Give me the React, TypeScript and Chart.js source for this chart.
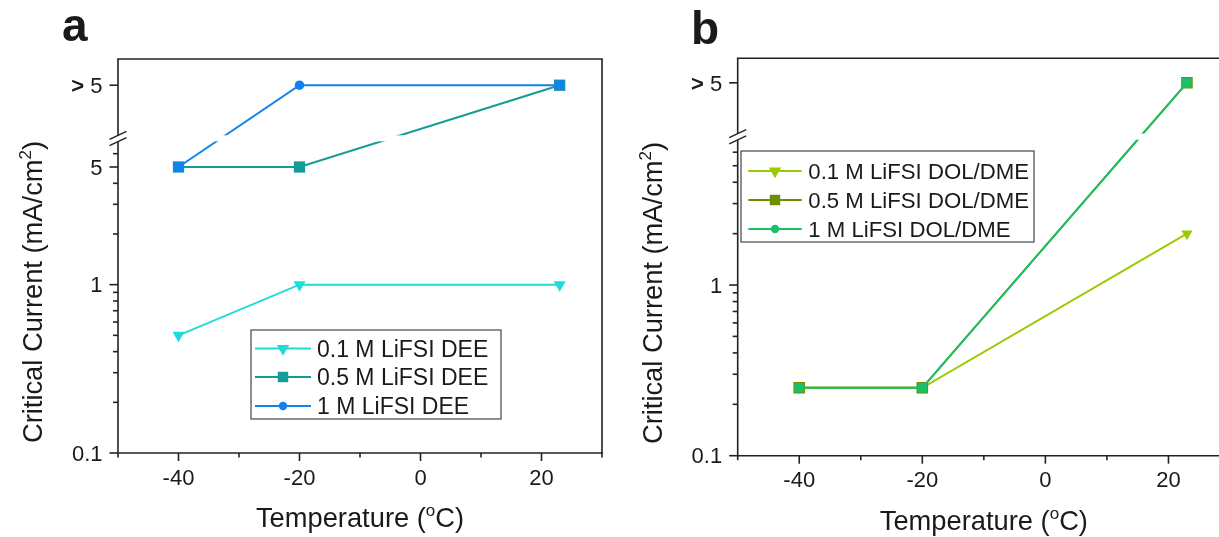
import React, { useEffect, useRef } from 'react';
import { Chart, registerables } from 'chart.js';

Chart.register(...registerables);

// ---------------- data ----------------
const TEMPERATURES = [-40, -20, 23];
const GT5 = 15.3; // axis position of the "> 5" category (above the axis break)
const BREAK_VALUE = 7.4; // where the y axis is broken

const DEE_01 = [0.5, 1, 1];
const DEE_05 = [5, 5, GT5];
const DEE_1 = [5, GT5, GT5];

const DOL_01 = [0.25, 0.25, 2];
const DOL_05 = [0.25, 0.25, GT5];
const DOL_1 = [0.25, 0.25, GT5];

const DEE_LABELS = ['0.1 M LiFSI DEE', '0.5 M LiFSI DEE', '1 M LiFSI DEE'];
const DOL_LABELS = ['0.1 M LiFSI DOL/DME', '0.5 M LiFSI DOL/DME', '1 M LiFSI DOL/DME'];

const X_MAJOR = [-40, -20, 0, 20];
const X_MAJOR_LABELS = ['-40', '-20', '0', '20'];
const X_MINOR = [-50, -30, -10, 10, 30];

const Y_MAJOR_A = [0.1, 1, 5, GT5];
const Y_LABELS_A = ['0.1', '1', '5', '> 5'];
const Y_MINOR_A = [0.2, 0.3, 0.4, 0.5, 0.6, 0.7, 0.8, 0.9, 2, 3, 4, 6];

const Y_MAJOR_B = [0.1, 1, GT5];
const Y_LABELS_B = ['0.1', '1', '> 5'];
const Y_MINOR_B = [0.2, 0.3, 0.4, 0.5, 0.6, 0.7, 0.8, 0.9, 2, 3, 4, 5, 6];

const X_TITLE = [{ t: 'Temperature (' }, { t: 'o', sup: true }, { t: 'C)' }];
const Y_TITLE = [{ t: 'Critical Current (mA/cm' }, { t: '2', sup: true }, { t: ')' }];

// ---------------- styles ----------------
const FONT = '"Liberation Sans", Arial, Helvetica, sans-serif';
const INK = '#1a1a1a';
const AXIS = '#222222';

const C_DEE_01 = '#1edcdc';
const C_DEE_05 = '#159c96';
const C_DEE_1 = '#1280f0';
const C_DOL_01 = '#99cc00';
const C_DOL_05 = '#6b8f00';
const C_DOL_1 = '#19c068';

type Seg = { t: string; sup?: boolean; bold?: boolean };

function drawSegs(ctx: CanvasRenderingContext2D, segs: Seg[], x: number, y: number, size: number, align: 'center' | 'right' | 'left') {
  const fontOf = (s: Seg) => `${s.bold ? 'bold ' : ''}${s.sup ? Math.round(size * 0.62) : size}px ${FONT}`;
  const widths = segs.map((s) => {
    ctx.font = fontOf(s);
    return ctx.measureText(s.t).width;
  });
  const total = widths.reduce((a, b) => a + b, 0);
  let cx = align === 'center' ? x - total / 2 : align === 'right' ? x - total : x;
  ctx.textAlign = 'left';
  ctx.textBaseline = 'alphabetic';
  segs.forEach((s, i) => {
    ctx.font = fontOf(s);
    ctx.fillText(s.t, cx, s.sup ? y - size * 0.42 : y);
    cx += widths[i];
  });
}

function drawMarker(ctx: CanvasRenderingContext2D, kind: string, x: number, y: number, r: number, fill: string) {
  ctx.fillStyle = fill;
  ctx.beginPath();
  if (kind === 'triangleDown') {
    ctx.moveTo(x, y + r);
    ctx.lineTo(x - r * 0.866, y - r / 2);
    ctx.lineTo(x + r * 0.866, y - r / 2);
    ctx.closePath();
  } else if (kind === 'rect') {
    const s = r * Math.SQRT1_2;
    ctx.rect(x - s, y - s, 2 * s, 2 * s);
  } else {
    ctx.arc(x, y, r, 0, Math.PI * 2);
  }
  ctx.fill();
}

const panelPlugin = {
  id: 'panel',
  afterDatasetsDraw(chart: any, _args: any, opts: any) {
    const ctx: CanvasRenderingContext2D = chart.ctx;
    const { left, right, top, bottom } = chart.chartArea;
    const xs = chart.scales.x;
    const ys = chart.scales.y;
    const by = ys.getPixelForValue(opts.breakAt);
    const line = (x0: number, y0: number, x1: number, y1: number) => {
      ctx.beginPath();
      ctx.moveTo(x0, y0);
      ctx.lineTo(x1, y1);
      ctx.stroke();
    };
    ctx.save();

    // interruption of the data lines at the axis break
    ctx.fillStyle = '#ffffff';
    ctx.fillRect(left + 2, by - 3, right - left - 4, 6);

    // frame
    ctx.strokeStyle = AXIS;
    ctx.lineWidth = 1.6;
    ctx.lineCap = 'butt';
    line(left - 0.8, top, right + 0.8, top);
    line(right, top, right, bottom);
    line(left - 0.8, bottom, right + 0.8, bottom);
    line(left, top, left, by - 3);
    line(left, by + 3.5, left, bottom);

    // break marks
    ctx.lineWidth = 1.4;
    for (const d of [-3, 3.2]) line(left - 8.5, by + d + 4, left + 8.5, by + d - 4);

    // ticks
    ctx.lineWidth = 1.6;
    X_MAJOR.forEach((v) => {
      const px = xs.getPixelForValue(v);
      line(px, bottom, px, bottom + 8);
    });
    X_MINOR.forEach((v) => {
      const px = xs.getPixelForValue(v);
      line(px, bottom, px, bottom + 4.5);
    });
    (opts.yMajor as number[]).forEach((v) => {
      const py = ys.getPixelForValue(v);
      line(left - 8.5, py, left, py);
    });
    (opts.yMinor as number[]).forEach((v) => {
      const py = ys.getPixelForValue(v);
      line(left - 5, py, left, py);
    });

    // tick labels
    ctx.fillStyle = INK;
    const TS = 22;
    X_MAJOR.forEach((v, i) => {
      drawSegs(ctx, [{ t: X_MAJOR_LABELS[i] }], xs.getPixelForValue(v), bottom + 31.5, TS, 'center');
    });
    (opts.yMajor as number[]).forEach((v, i) => {
      const lab: string = opts.yLabels[i];
      const py = ys.getPixelForValue(v) + TS * 0.35;
      const segs: Seg[] = lab.startsWith('>') ? [{ t: '>', bold: true }, { t: lab.slice(1) }] : [{ t: lab }];
      drawSegs(ctx, segs, left - 15.5, py, TS, 'right');
    });

    // axis titles
    const TT = 27.3;
    drawSegs(ctx, X_TITLE, (left + right) / 2, opts.xTitleY, TT, 'center');
    ctx.save();
    ctx.translate(opts.yTitle.x, opts.yTitle.y);
    ctx.rotate(-Math.PI / 2);
    drawSegs(ctx, Y_TITLE, 0, 0, TT, 'center');
    ctx.restore();

    // panel letter
    ctx.font = `bold 46px ${FONT}`;
    ctx.textAlign = 'left';
    ctx.textBaseline = 'alphabetic';
    ctx.fillText(opts.letter.t, opts.letter.x, opts.letter.y);

    // legend
    const lg = opts.legend;
    ctx.fillStyle = '#ffffff';
    ctx.fillRect(lg.box[0], lg.box[1], lg.box[2], lg.box[3]);
    ctx.strokeStyle = '#444444';
    ctx.lineWidth = 1.2;
    ctx.strokeRect(lg.box[0], lg.box[1], lg.box[2], lg.box[3]);
    chart.data.datasets.forEach((ds: any, i: number) => {
      const ry = lg.rows[i];
      ctx.strokeStyle = ds.borderColor;
      ctx.lineWidth = 2;
      line(lg.line[0], ry, lg.line[1], ry);
      drawMarker(ctx, lg.markers[i], lg.markerX, ry, lg.sizes[i], lg.fills[i]);
      ctx.fillStyle = INK;
      drawSegs(ctx, [{ t: ds.label }], lg.textX, ry + lg.fontSize * 0.35, lg.fontSize, 'left');
    });

    ctx.restore();
  },
};

const pts = (vals: number[]) => TEMPERATURES.map((x, i) => ({ x, y: vals[i] }));

function baseOptions(padding: any, yMax: number, panel: any) {
  return {
    responsive: false,
    animation: false as const,
    layout: { padding },
    events: [],
    scales: {
      x: { type: 'linear' as const, min: -50, max: 30, display: false },
      y: { type: 'logarithmic' as const, min: 0.1, max: yMax, display: false },
    },
    plugins: {
      legend: { display: false },
      tooltip: { enabled: false },
      panel,
    },
  };
}

function configA(): any {
  return {
    type: 'line',
    data: {
      datasets: [
        {
          label: DEE_LABELS[0], data: pts(DEE_01), borderColor: C_DEE_01, backgroundColor: C_DEE_01,
          borderWidth: 2, pointStyle: 'triangle', pointRotation: 180, pointRadius: 7, pointBorderWidth: 0,
          pointBackgroundColor: C_DEE_01, order: 2,
        },
        {
          label: DEE_LABELS[1], data: pts(DEE_05), borderColor: C_DEE_05, backgroundColor: C_DEE_05,
          borderWidth: 2, pointStyle: 'rect', pointRadius: 8, pointBorderWidth: 0,
          pointBackgroundColor: C_DEE_05, order: 1,
        },
        {
          label: DEE_LABELS[2], data: pts(DEE_1), borderColor: C_DEE_1, backgroundColor: C_DEE_1,
          borderWidth: 2, pointStyle: ['rect', 'circle', 'rect'], pointRadius: [6.8, 4.8, 6.8], pointBorderWidth: 0,
          pointBackgroundColor: C_DEE_1, order: 0,
        },
      ],
    },
    options: baseOptions({ left: 118, top: 59, right: 5.5, bottom: 84 }, 21.9, {
      breakAt: BREAK_VALUE,
      yMajor: Y_MAJOR_A,
      yLabels: Y_LABELS_A,
      yMinor: Y_MINOR_A,
      xTitleY: 527,
      yTitle: { x: 42, y: 292 },
      letter: { t: 'a', x: 62, y: 41 },
      legend: {
        box: [251, 330, 250, 89],
        rows: [348.5, 377, 406],
        line: [255, 311],
        markerX: 283,
        textX: 317,
        fontSize: 23,
        markers: ['triangleDown', 'rect', 'circle'],
        sizes: [7.2, 7.4, 4.2],
        fills: [C_DEE_01, C_DEE_05, C_DEE_1],
      },
    }),
    plugins: [panelPlugin],
  };
}

function configB(): any {
  return {
    type: 'line',
    data: {
      datasets: [
        {
          label: DOL_LABELS[0], data: pts(DOL_01), borderColor: C_DOL_01, backgroundColor: C_DOL_01,
          borderWidth: 2, pointStyle: 'triangle', pointRotation: 180, pointRadius: 6.5, pointBorderWidth: 0,
          pointBackgroundColor: C_DOL_01, order: 2,
        },
        {
          label: DOL_LABELS[1], data: pts(DOL_05), borderColor: C_DOL_05, backgroundColor: C_DOL_05,
          borderWidth: 2, pointStyle: 'rect', pointRadius: 8.2, pointBorderWidth: 0,
          pointBackgroundColor: C_DOL_05, order: 1,
        },
        {
          label: DOL_LABELS[2], data: pts(DOL_1), borderColor: C_DOL_1, backgroundColor: C_DOL_1,
          borderWidth: 2, pointStyle: 'rect', pointRadius: 6.8, pointBorderWidth: 0,
          pointBackgroundColor: C_DOL_1, order: 0,
        },
      ],
    },
    options: baseOptions({ left: 127.7, top: 58.3, right: 10, bottom: 81.3 }, 21.3, {
      breakAt: BREAK_VALUE,
      yMajor: Y_MAJOR_B,
      yLabels: Y_LABELS_B,
      yMinor: Y_MINOR_B,
      xTitleY: 530,
      yTitle: { x: 52, y: 293 },
      letter: { t: 'b', x: 81, y: 43.5 },
      legend: {
        box: [131, 151, 293, 91],
        rows: [171, 200, 229],
        line: [138.3, 191.7],
        markerX: 165,
        textX: 198.3,
        fontSize: 22.2,
        markers: ['triangleDown', 'rect', 'circle'],
        sizes: [7.2, 7.4, 4.2],
        fills: [C_DOL_01, C_DOL_05, C_DOL_1],
      },
    }),
    plugins: [panelPlugin],
  };
}

export default function App() {
  const refA = useRef<HTMLCanvasElement>(null);
  const refB = useRef<HTMLCanvasElement>(null);

  useEffect(() => {
    const a = new Chart(refA.current as HTMLCanvasElement, configA());
    const b = new Chart(refB.current as HTMLCanvasElement, configB());
    return () => {
      a.destroy();
      b.destroy();
    };
  }, []);

  return (
    <div style={{ position: 'absolute', left: 0, top: 0, width: 1219, height: 537, overflow: 'hidden', background: '#ffffff' }}>
      <canvas ref={refA} width={610} height={537} style={{ position: 'absolute', left: 0, top: 0 }} />
      <canvas ref={refB} width={630} height={537} style={{ position: 'absolute', left: 610, top: 0 }} />
    </div>
  );
}
